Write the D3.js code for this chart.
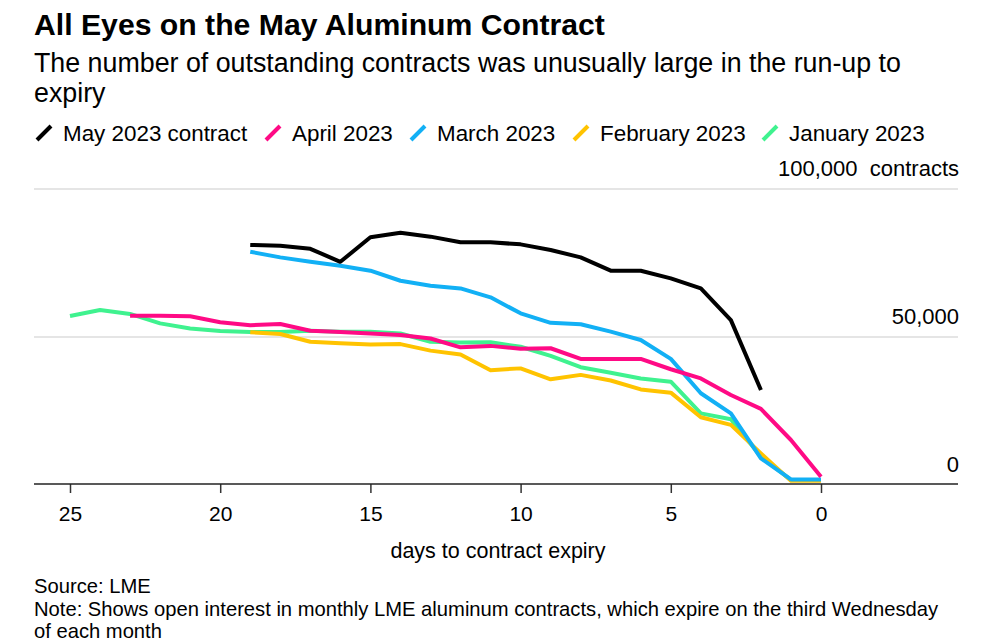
<!DOCTYPE html>
<html>
<head>
<meta charset="utf-8">
<script src="https://cdn.jsdelivr.net/npm/d3@7"></script>
<style>
  html, body { margin: 0; padding: 0; background: #fff; }
  svg { display: block; font-family: "Liberation Sans", Arial, Helvetica, sans-serif; }
</style>
</head>
<body>
<svg id="chart" width="984" height="644"></svg>
<script>
// ---- Data (open interest, contracts) by days to contract expiry ----
const mayDays = [19, 18, 17, 16, 15, 14, 13, 12, 11, 10, 9, 8, 7, 6, 5, 4, 3, 2];
const mayValues = [81100, 80800, 79800, 75400, 83700, 85200, 83900, 82000, 82000, 81300, 79400, 76900, 72400, 72400, 69800, 66400, 55700, 32100];

const aprilDays = [23, 22, 21, 20, 19, 18, 17, 16, 15, 14, 13, 12, 11, 10, 9, 8, 7, 6, 5, 4, 3, 2, 1, 0];
const aprilValues = [57200, 57200, 57000, 55000, 54000, 54400, 52100, 51700, 51200, 50700, 49500, 46500, 47000, 46000, 46200, 42600, 42600, 42600, 39100, 36000, 30400, 25700, 15200, 2800];

const marchDays = [19, 18, 17, 16, 15, 14, 13, 12, 11, 10, 9, 8, 7, 6, 5, 4, 3, 2, 1, 0];
const marchValues = [78800, 76900, 75400, 74100, 72400, 69000, 67300, 66400, 63400, 58000, 54800, 54300, 51800, 49000, 42600, 31000, 24200, 9000, 1900, 1900];

const februaryDays = [19, 18, 17, 16, 15, 14, 13, 12, 11, 10, 9, 8, 7, 6, 5, 4, 3, 2, 1, 0];
const februaryValues = [51600, 51000, 48400, 47900, 47500, 47600, 45400, 44100, 38800, 39400, 35700, 37200, 35300, 32300, 31200, 22900, 20300, 10700, 1400, 1400];

const januaryDays = [25, 24, 23, 22, 21, 20, 19, 18, 17, 16, 15, 14, 13, 12, 11, 10, 9, 8, 7, 6, 5, 4, 3, 2, 1, 0];
const januaryValues = [57100, 59100, 57800, 54600, 52900, 52000, 51700, 51700, 52100, 51800, 51800, 51200, 48400, 48100, 48200, 46700, 43600, 39800, 37900, 36000, 34900, 24200, 22200, 9600, 1700, 1700];

const seriesNames = ["May 2023 contract", "April 2023", "March 2023", "February 2023", "January 2023"];
const seriesColors = ["#000000", "#ff0a85", "#12b0f5", "#ffc300", "#3ff28f"];

const xTicks = [25, 20, 15, 10, 5, 0];
const yTicks = [0, 50000, 100000];
const yTickLabels = ["0", "50,000", "100,000\u00a0\u00a0contracts"];

const titleText = "All Eyes on the May Aluminum Contract";
const subtitleLines = ["The number of outstanding contracts was unusually large in the run-up to", "expiry"];
const xAxisTitle = "days to contract expiry";
const footerLines = ["Source: LME", "Note: Shows open interest in monthly LME aluminum contracts, which expire on the third Wednesday", "of each month"];

// ---- Build series table ----
const series = [
  { name: seriesNames[0], color: seriesColors[0], days: mayDays, values: mayValues },
  { name: seriesNames[1], color: seriesColors[1], days: aprilDays, values: aprilValues },
  { name: seriesNames[2], color: seriesColors[2], days: marchDays, values: marchValues },
  { name: seriesNames[3], color: seriesColors[3], days: februaryDays, values: februaryValues },
  { name: seriesNames[4], color: seriesColors[4], days: januaryDays, values: januaryValues }
].map(s => ({ ...s, points: s.days.map((d, i) => ({ day: d, value: s.values[i] })) }));

const svg = d3.select("#chart");

// ---- Layout ----
const left = 34, right = 959;
const x = d3.scaleLinear().domain([25, 0]).range([70, 821]);
const y = d3.scaleLinear().domain([0, 100000]).range([485, 189]);
const axisY = 484;
const legendX = [36, 265, 410, 573, 762];

// Title & subtitle
svg.append("text").attr("x", left).attr("y", 35)
  .attr("font-size", 30.2).attr("font-weight", "bold").attr("fill", "#000")
  .text(titleText);
subtitleLines.forEach((t, i) => {
  svg.append("text").attr("x", left).attr("y", 72 + i * 30)
    .attr("font-size", 26.8).attr("fill", "#000").text(t);
});

// Legend
const legend = svg.append("g");
series.forEach((s, i) => {
  const lx = legendX[i];
  legend.append("line")
    .attr("x1", lx + 1).attr("y1", 140).attr("x2", lx + 15).attr("y2", 126)
    .attr("stroke", s.color).attr("stroke-width", 4);
  legend.append("text").attr("x", lx + 27).attr("y", 141)
    .attr("font-size", 22.4).attr("fill", "#000").text(s.name);
});

// Gridlines (non-zero)
svg.append("g").selectAll("line")
  .data(yTicks.filter(v => v !== 0))
  .join("line")
  .attr("x1", left).attr("x2", right - 1)
  .attr("y1", d => y(d)).attr("y2", d => y(d))
  .attr("stroke", "#dcdcdc").attr("stroke-width", 1.5);

// Y labels (right side, above lines)
svg.append("g").selectAll("text")
  .data(yTicks)
  .join("text")
  .attr("x", right).attr("y", d => y(d) - 13)
  .attr("text-anchor", "end").attr("font-size", 22).attr("fill", "#000")
  .text((d, i) => yTickLabels[i]);

// X axis
const xAxis = d3.axisBottom(x).tickValues(xTicks).tickSize(9).tickPadding(13).tickSizeOuter(0);
const gx = svg.append("g").attr("transform", `translate(0,${axisY})`).call(xAxis);
gx.select(".domain").remove();
gx.selectAll(".tick line").attr("stroke", "#333").attr("stroke-width", 1.5);
gx.selectAll(".tick text").attr("font-size", 21).attr("fill", "#000")
  .attr("font-family", "'Liberation Sans', Arial, sans-serif");
svg.append("line").attr("x1", left).attr("x2", right - 1).attr("y1", axisY).attr("y2", axisY)
  .attr("stroke", "#222").attr("stroke-width", 1.5);

svg.append("text").attr("x", 498).attr("y", 558).attr("text-anchor", "middle")
  .attr("font-size", 21.5).attr("fill", "#000").text(xAxisTitle);

// Lines (drawn in reverse legend order so May is on top)
const line = d3.line().x(d => x(d.day)).y(d => y(d.value));
svg.append("g").selectAll("path")
  .data(series.slice().reverse())
  .join("path")
  .attr("d", d => line(d.points))
  .attr("fill", "none")
  .attr("stroke", d => d.color)
  .attr("stroke-width", 4)
  .attr("stroke-linejoin", "round");

// Footer
footerLines.forEach((t, i) => {
  svg.append("text").attr("x", left).attr("y", 593 + i * 22.5)
    .attr("font-size", 20.2).attr("fill", "#000").text(t);
});
</script>
</body>
</html>
